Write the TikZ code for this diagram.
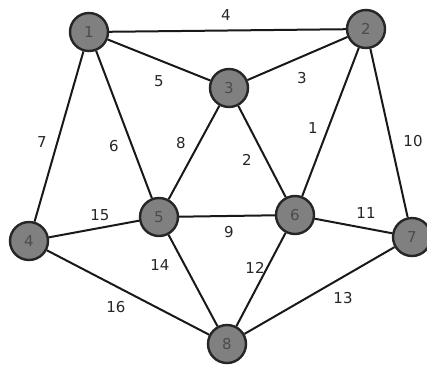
\documentclass[tikz,border=0pt]{standalone}
\usepackage{fontspec}
\setmainfont{DejaVu Sans}
\begin{document}
\begin{tikzpicture}[x=1pt,y=-1pt,
  vtx/.style={circle,draw=black!85,line width=2.4pt,fill=black!50,minimum size=38pt,inner sep=0pt,font=\fontsize{15}{15}\selectfont,text=black!70},
  edge/.style={line width=2pt,black!90},
  lbl/.style={font=\fontsize{15}{15}\selectfont,text=black!85}]
\useasboundingbox (0,0) rectangle (427,367);
\fill[white] (0,0) rectangle (427,367);
\node[vtx] (n1) at (89,32) {1};
\node[vtx] (n2) at (366,29) {2};
\node[vtx] (n3) at (229,88) {3};
\node[vtx] (n4) at (29,241) {4};
\node[vtx] (n5) at (159,217) {5};
\node[vtx] (n6) at (295,215) {6};
\node[vtx] (n7) at (412,237) {7};
\node[vtx] (n8) at (227,344) {8};
\draw[edge] (n1) -- (n2);
\draw[edge] (n1) -- (n3);
\draw[edge] (n3) -- (n2);
\draw[edge] (n1) -- (n4);
\draw[edge] (n1) -- (n5);
\draw[edge] (n3) -- (n5);
\draw[edge] (n3) -- (n6);
\draw[edge] (n2) -- (n6);
\draw[edge] (n2) -- (n7);
\draw[edge] (n4) -- (n5);
\draw[edge] (n5) -- (n6);
\draw[edge] (n6) -- (n7);
\draw[edge] (n5) -- (n8);
\draw[edge] (n6) -- (n8);
\draw[edge] (n4) -- (n8);
\draw[edge] (n7) -- (n8);
\node[lbl] (l4) at (226,15) {4};
\node[lbl] (l5) at (159,81) {5};
\node[lbl] (l3) at (302,78) {3};
\node[lbl] (l7) at (42,142) {7};
\node[lbl] (l6) at (114,146) {6};
\node[lbl] (l8) at (181,143) {8};
\node[lbl] (l2) at (247,160) {2};
\node[lbl] (l1) at (313,128) {1};
\node[lbl] (l10) at (413,141) {10};
\node[lbl] (l15) at (100,215) {15};
\node[lbl] (l9) at (229,232) {9};
\node[lbl] (l11) at (366,213) {11};
\node[lbl] (l14) at (160,265) {14};
\node[lbl] (l12) at (255,268) {12};
\node[lbl] (l16) at (116,307) {16};
\node[lbl] (l13) at (343,298) {13};
\end{tikzpicture}
\end{document}
